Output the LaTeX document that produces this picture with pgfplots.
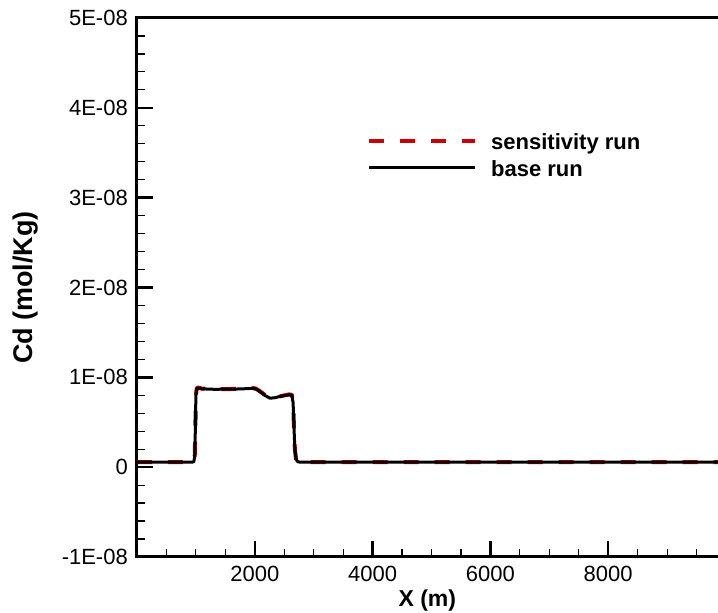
\documentclass[border=0pt]{standalone}
\usepackage{fontspec}
\setmainfont{Liberation Sans}
\usepackage{pgfplots}
\pgfplotsset{compat=1.18}
\usetikzlibrary{calc}
\definecolor{sensred}{RGB}{204,0,0}
\begin{document}
\fontsize{22}{26}\selectfont
\begin{tikzpicture}
\begin{axis}[
  scale only axis, width=589pt, height=539pt,
  xmin=0, xmax=10000, ymin=-1e-8, ymax=5e-8,
  xtick={0,2000,4000,6000,8000,10000},
  xticklabels={,2000,4000,6000,8000,},
  ytick={-1e-8,0,1e-8,2e-8,3e-8,4e-8,5e-8},
  yticklabels={-1E-08,0,1E-08,2E-08,3E-08,4E-08,5E-08},
  scaled y ticks=false, scaled x ticks=false,
  minor x tick num=3, minor y tick num=4,
  xtick pos=left, ytick pos=left,
  tick align=inside,
  axis line style={line width=3pt},
  major tick length=16pt, minor tick length=8pt,
  every major tick/.style={line width=2.5pt, black},
  every minor tick/.style={line width=1.2pt, black},
  xticklabel style={inner sep=0pt, yshift=-8.7pt},
  yticklabel style={inner sep=0pt, xshift=-9pt},
  xlabel={X (m)}, ylabel={Cd (mol/Kg)},
  every axis x label/.style={at={(rel axis cs:0.493,0)}, yshift=-49.5pt, anchor=base, font=\fontsize{23}{27}\selectfont\bfseries},
  every axis y label/.style={at={(rel axis cs:0,0.5)}, xshift=-111.2pt, rotate=90, anchor=center, font=\fontsize{27}{31}\selectfont\bfseries},
  legend style={draw=none, fill=none, at={(axis cs:3905,3.739e-8)}, anchor=north west, font=\bfseries, row sep=3.5pt, inner sep=0pt,
    /tikz/every odd column/.append style={column sep=12pt}},
  legend cell align=left,
  legend image code/.code={\draw[#1] (0pt,2.5pt) -- (106pt,2.5pt);},
]
\coordinate (SW) at (rel axis cs:0,0);
\addplot[sensred, line width=4pt, dash pattern=on 15pt off 16pt, line join=round] coordinates {
(0,5.5e-10) (930,5.5e-10) (965,6.0e-10) (980,1.2e-9) (990,4e-9) (1000,8.0e-9) (1015,8.8e-9) (1040,8.86e-9) (1100,8.75e-9) (1300,8.68e-9) (1600,8.7e-9) (1800,8.76e-9) (1950,8.84e-9) (2020,8.74e-9) (2100,8.4e-9) (2180,7.98e-9) (2260,7.7e-9) (2330,7.74e-9) (2450,7.92e-9) (2580,8.1e-9) (2630,8.05e-9) (2650,7.2e-9) (2665,4.5e-9) (2680,2e-9) (2700,9e-10) (2730,6e-10) (2780,5.5e-10) (10000,5.5e-10)
};
\addlegendentry{sensitivity run}
\addplot[black, line width=3pt, line join=round] coordinates {
(0,5.5e-10) (930,5.5e-10) (965,6.0e-10) (980,1.2e-9) (990,4e-9) (1000,8.0e-9) (1015,8.75e-9) (1040,8.82e-9) (1100,8.72e-9) (1300,8.67e-9) (1600,8.68e-9) (1800,8.72e-9) (1950,8.77e-9) (2020,8.7e-9) (2100,8.35e-9) (2180,7.95e-9) (2260,7.68e-9) (2330,7.72e-9) (2450,7.9e-9) (2580,8.05e-9) (2630,8.0e-9) (2650,7.2e-9) (2665,4.5e-9) (2680,2e-9) (2700,9e-10) (2730,6e-10) (2780,5.5e-10) (10000,5.5e-10)
};
\addlegendentry{base run}
\end{axis}
\pgfresetboundingbox
\path[use as bounding box] ($(SW)+(-137pt,-56pt)$) rectangle ++(718pt,613pt);
\end{tikzpicture}
\end{document}
